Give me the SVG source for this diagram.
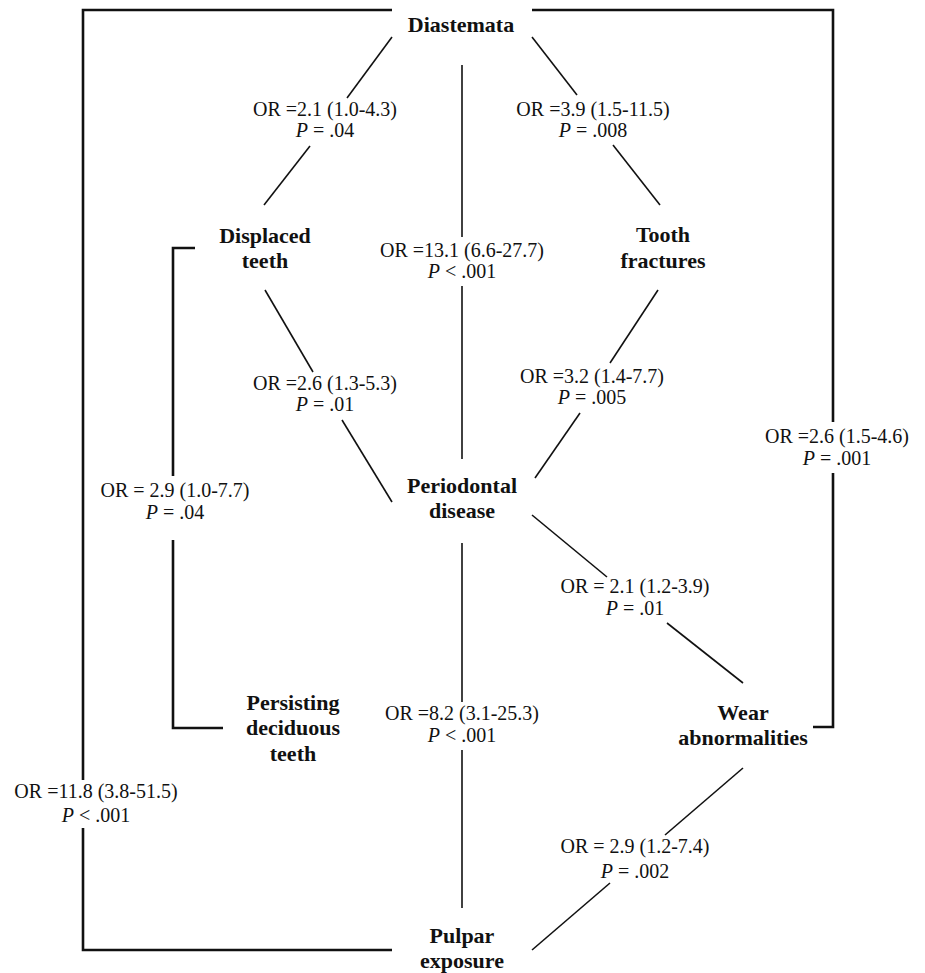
<svg xmlns="http://www.w3.org/2000/svg" width="925" height="973" viewBox="0 0 925 973">
<style>
.node{font-family:"Liberation Serif","Times New Roman",serif;font-weight:bold;font-size:22px;text-anchor:middle;fill:#111}
.lbl{font-family:"Liberation Serif","Times New Roman",serif;font-size:20px;text-anchor:middle;fill:#111}
.lbl tspan.i{font-style:italic}
.c{stroke:#111;stroke-width:1.6;fill:none}
.b{stroke:#111;stroke-width:2.6;fill:none}
</style>
<rect width="925" height="973" fill="#fff"/>
<g id="connectors">
  <!-- Diastemata - Displaced teeth -->
  <line class="c" x1="392" y1="37" x2="347" y2="98"/>
  <line class="c" x1="310" y1="146" x2="264" y2="205"/>
  <!-- Diastemata - Tooth fractures -->
  <line class="c" x1="532" y1="37" x2="577" y2="95"/>
  <line class="c" x1="613" y1="145" x2="660" y2="205"/>
  <!-- Diastemata - Periodontal -->
  <line class="c" x1="462" y1="65" x2="462" y2="237"/>
  <line class="c" x1="462" y1="286" x2="462" y2="459"/>
  <!-- Displaced - Periodontal -->
  <line class="c" x1="265" y1="290" x2="313" y2="372"/>
  <line class="c" x1="342" y1="420" x2="392" y2="502"/>
  <!-- Tooth fractures - Periodontal -->
  <line class="c" x1="658" y1="290" x2="610" y2="363"/>
  <line class="c" x1="580" y1="413" x2="535" y2="478"/>
  <!-- Periodontal - Wear -->
  <line class="c" x1="532" y1="515" x2="607" y2="577"/>
  <line class="c" x1="667" y1="623" x2="743" y2="683"/>
  <!-- Periodontal - Pulpar -->
  <line class="c" x1="462" y1="543" x2="462" y2="702"/>
  <line class="c" x1="462" y1="750" x2="462" y2="908"/>
  <!-- Wear - Pulpar -->
  <line class="c" x1="743" y1="768" x2="665" y2="835"/>
  <line class="c" x1="610" y1="883" x2="532" y2="950"/>
  <!-- Displaced - Persisting bracket -->
  <polyline class="b" points="195,248 173,248 173,476"/>
  <polyline class="b" points="173,540 173,728 223,728"/>
  <!-- Diastemata - Pulpar bracket -->
  <polyline class="b" points="392,10 83,10 83,780"/>
  <polyline class="b" points="83,828 83,950 392,950"/>
  <!-- Diastemata - Wear bracket -->
  <polyline class="b" points="532,10 833,10 833,422"/>
  <polyline class="b" points="833,473 833,727 813,727"/>
</g>
<g id="diastemata"><text class="node" x="461" y="32">Diastemata</text></g>
<g id="displaced-teeth"><text class="node" x="265" y="243">Displaced</text><text class="node" x="265" y="268">teeth</text></g>
<g id="tooth-fractures"><text class="node" x="663" y="242">Tooth</text><text class="node" x="663" y="268">fractures</text></g>
<g id="periodontal-disease"><text class="node" x="462" y="493">Periodontal</text><text class="node" x="462" y="518">disease</text></g>
<g id="persisting-deciduous-teeth"><text class="node" x="293" y="710">Persisting</text><text class="node" x="293" y="735">deciduous</text><text class="node" x="293" y="761">teeth</text></g>
<g id="wear-abnormalities"><text class="node" x="743" y="720">Wear</text><text class="node" x="743" y="745">abnormalities</text></g>
<g id="pulpar-exposure"><text class="node" x="462" y="943">Pulpar</text><text class="node" x="462" y="968">exposure</text></g>
<g id="labels">
  <text class="lbl" x="325" y="116">OR =2.1 (1.0-4.3)</text>
  <text class="lbl" x="325" y="137"><tspan class="i">P</tspan> = .04</text>
  <text class="lbl" x="593" y="116">OR =3.9 (1.5-11.5)</text>
  <text class="lbl" x="593" y="137"><tspan class="i">P</tspan> = .008</text>
  <text class="lbl" x="462" y="257">OR =13.1 (6.6-27.7)</text>
  <text class="lbl" x="462" y="278"><tspan class="i">P</tspan> &lt; .001</text>
  <text class="lbl" x="325" y="390">OR =2.6 (1.3-5.3)</text>
  <text class="lbl" x="325" y="411"><tspan class="i">P</tspan> = .01</text>
  <text class="lbl" x="592" y="383">OR =3.2 (1.4-7.7)</text>
  <text class="lbl" x="592" y="404"><tspan class="i">P</tspan> = .005</text>
  <text class="lbl" x="837" y="443">OR =2.6 (1.5-4.6)</text>
  <text class="lbl" x="837" y="465"><tspan class="i">P</tspan> = .001</text>
  <text class="lbl" x="175" y="497">OR = 2.9 (1.0-7.7)</text>
  <text class="lbl" x="175" y="519"><tspan class="i">P</tspan> = .04</text>
  <text class="lbl" x="635" y="593">OR = 2.1 (1.2-3.9)</text>
  <text class="lbl" x="635" y="615"><tspan class="i">P</tspan> = .01</text>
  <text class="lbl" x="462" y="720">OR =8.2 (3.1-25.3)</text>
  <text class="lbl" x="462" y="742"><tspan class="i">P</tspan> &lt; .001</text>
  <text class="lbl" x="96" y="798">OR =11.8 (3.8-51.5)</text>
  <text class="lbl" x="96" y="822"><tspan class="i">P</tspan> &lt; .001</text>
  <text class="lbl" x="635" y="853">OR = 2.9 (1.2-7.4)</text>
  <text class="lbl" x="635" y="878"><tspan class="i">P</tspan> = .002</text>
</g>
</svg>
